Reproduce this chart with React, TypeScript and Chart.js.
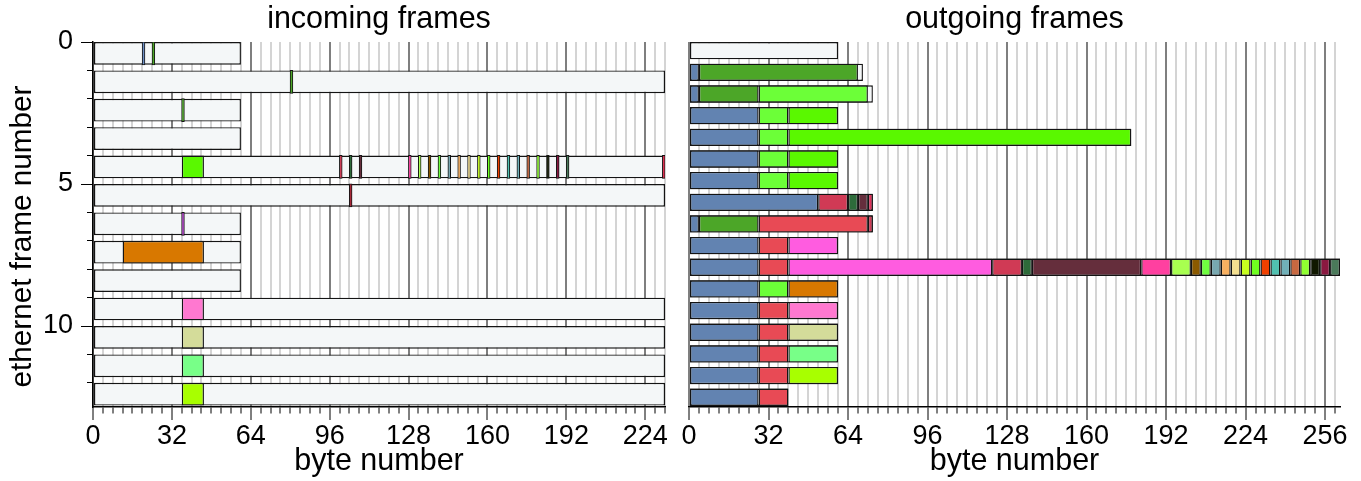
import React, { useEffect, useRef } from "react";
import { Chart, registerables } from "chart.js";

Chart.register(...registerables);

const FONT_FAMILY = "'Liberation Sans', Arial, Helvetica, sans-serif";
Chart.defaults.font.family = FONT_FAMILY;
Chart.defaults.color = "#000";

// ---------- shared axis settings ----------
const BYTE_TICK_STEP = 4;
const BYTE_LABEL_STEP = 32;
const FRAME_LABEL_STEP = 5;
const BAR_FRACTION = 0.8;

// ---------- palette ----------
const EMPTY = "#f4f7f8";
const BLUE = "#6283b1";
const GREEN = "#4ca628";
const LGREEN = "#6cff38";
const BGREEN = "#5af800";
const RED = "#e84a55";
const PINK = "#ff5ce0";
const CRIMSON = "#d03a55";
const DKGREEN = "#2d6b3a";
const MAROON = "#652e3c";
const HOTPINK = "#ff40a0";
const YGREEN = "#a8ff50";
const BROWN = "#8b5a00";
const LIME = "#70ff40";
const TEALGRAY = "#78a8b0";
const LORANGE = "#f8b060";
const PYELLOW = "#f4e090";
const YGREEN2 = "#c8ff20";
const LIME2 = "#70ff20";
const REDORANGE = "#f04000";
const TEAL = "#50c0b0";
const GRAYTEAL = "#70b0b8";
const TERRACOTTA = "#c86840";
const LIME3 = "#90ff30";
const NEARBLACK = "#101800";
const DKCRIMSON = "#8a1840";
const GRAYGREEN = "#4a7a5a";
const ORANGE = "#d87800";
const PINK2 = "#ff78d0";
const KHAKI = "#d4dc9a";
const MINT = "#78ff88";
const LIMEY = "#a8ff00";

// ---------- incoming frames ----------
const inFrameLengths = [60, 232, 60, 60, 232, 232, 60, 60, 60, 232, 232, 232, 232];
const inFieldStarts: number[][] = [
  [20, 24],
  [80],
  [36],
  [],
  [36, 100, 104, 108, 128, 132, 136, 140, 144, 148, 152, 156, 160, 164, 168, 172, 176, 180, 184, 188, 192, 231],
  [104],
  [36],
  [12],
  [],
  [36],
  [36],
  [36],
  [36],
];
const inFieldEnds: number[][] = [
  [21, 25],
  [81],
  [37],
  [],
  [45, 101, 105, 109, 129, 133, 137, 141, 145, 149, 153, 157, 161, 165, 169, 173, 177, 181, 185, 189, 193, 232],
  [105],
  [37],
  [45],
  [],
  [45],
  [45],
  [45],
  [45],
];
const inFieldColors: string[][] = [
  ["#6d8fc4", GREEN],
  [GREEN],
  [GREEN],
  [],
  [BGREEN, CRIMSON, DKGREEN, MAROON, HOTPINK, YGREEN, BROWN, LIME, TEALGRAY, LORANGE, PYELLOW, YGREEN2, LIME2,
    REDORANGE, TEAL, GRAYTEAL, TERRACOTTA, LIME3, NEARBLACK, DKCRIMSON, GRAYGREEN, "#e03050"],
  ["#a82838"],
  ["#b040c8"],
  [ORANGE],
  [],
  [PINK2],
  [KHAKI],
  [MINT],
  [LIMEY],
];
const inByteMax = 232;
const inFrameMax = 12.85;

// ---------- outgoing frames ----------
const outFrameLengths = [60, 70, 74, 60, 178, 60, 60, 74, 74, 60, 262, 60, 60, 60, 60, 60, 40];
const outFieldEdges: number[][] = [
  [],
  [0, 4, 68],
  [0, 4, 28, 72],
  [0, 28, 40, 60],
  [0, 28, 40, 178],
  [0, 28, 40, 60],
  [0, 28, 40, 60],
  [0, 52, 64, 68, 72, 74],
  [0, 4, 28, 72, 74],
  [0, 28, 40, 60],
  [0, 28, 40, 122, 134, 138, 182, 194, 202, 206, 210, 214, 218, 222, 226, 230, 234, 238, 242, 246, 250, 254, 258, 262],
  [0, 28, 40, 60],
  [0, 28, 40, 60],
  [0, 28, 40, 60],
  [0, 28, 40, 60],
  [0, 28, 40, 60],
  [0, 28, 40],
];
const outFieldColors: string[][] = [
  [],
  [BLUE, GREEN],
  [BLUE, GREEN, LGREEN],
  [BLUE, LGREEN, BGREEN],
  [BLUE, LGREEN, BGREEN],
  [BLUE, LGREEN, BGREEN],
  [BLUE, LGREEN, BGREEN],
  [BLUE, CRIMSON, DKGREEN, MAROON, "#e0305a"],
  [BLUE, GREEN, RED, CRIMSON],
  [BLUE, RED, PINK],
  [BLUE, RED, PINK, CRIMSON, DKGREEN, MAROON, HOTPINK, YGREEN, BROWN, LIME, TEALGRAY, LORANGE, PYELLOW, YGREEN2,
    LIME2, REDORANGE, TEAL, GRAYTEAL, TERRACOTTA, LIME3, NEARBLACK, DKCRIMSON, GRAYGREEN],
  [BLUE, LGREEN, ORANGE],
  [BLUE, RED, PINK2],
  [BLUE, RED, KHAKI],
  [BLUE, RED, MINT],
  [BLUE, RED, LIMEY],
  [BLUE, RED],
];
const outByteMax = 262;
const outFrameMax = 16.85;

const TITLE_SIZE = 30.5;
const Y_TITLE_SIZE = 29.7;
const TICK_SIZE = 27;
const Y_TITLE_TEXT = "ethernet frame number";

type PanelProps = {
  title: string;
  left: number;
  width: number;
  height: number;
  frameLengths: number[];
  fieldStarts: number[][];
  fieldEnds: number[][];
  fieldColors: string[][];
  xMax: number;
  yMax: number;
  showFrameAxis: boolean;
  padLeft: number;
  padRight: number;
  yAxisWidth: number;
};

function FramePanel(p: PanelProps) {
  const ref = useRef<HTMLCanvasElement>(null);
  useEffect(() => {
    const canvas = ref.current;
    if (!canvas) return;
    const frameData = p.frameLengths.map((len, i) => ({ x: [0, len], y: i + BAR_FRACTION / 2 }));
    const fieldData: any[] = [];
    const fieldBg: string[] = [];
    const fieldBorder: number[] = [];
    const fieldInflate: any[] = [];
    p.fieldStarts.forEach((starts, i) => {
      starts.forEach((s, k) => {
        const e = p.fieldEnds[i][k];
        const thin = e - s <= 1;
        fieldData.push({ x: [s, e], y: i + BAR_FRACTION / 2 });
        fieldBg.push(p.fieldColors[i][k]);
        fieldBorder.push(thin ? 1 : 1.4);
        fieldInflate.push(thin ? 0.5 : "auto");
      });
    });
    const isMajorByte = (ctx: any) => !!ctx.tick && ctx.tick.value % BYTE_LABEL_STEP === 0;
    const isMajorFrame = (ctx: any) => !!ctx.tick && ctx.tick.value % FRAME_LABEL_STEP === 0;
    const barCommon = {
      borderColor: "#141414",
      borderSkipped: false,
      grouped: false,
      categoryPercentage: BAR_FRACTION,
      barPercentage: 1,
    };
    const yTitlePlugin = {
      id: "frameAxisTitle",
      afterDraw(chart: any) {
        if (!p.showFrameAxis) return;
        const ctx = chart.ctx;
        const ys = chart.scales.y;
        const area = chart.chartArea;
        ctx.save();
        ctx.translate(ys.left + 23, (area.top + area.bottom) / 2 + 12);
        ctx.rotate(-Math.PI / 2);
        ctx.font = `${Y_TITLE_SIZE}px ${FONT_FAMILY}`;
        ctx.fillStyle = "#000";
        ctx.textAlign = "center";
        ctx.textBaseline = "middle";
        ctx.fillText(Y_TITLE_TEXT, 0, 0);
        ctx.restore();
      },
    };
    const chart = new Chart(canvas, {
      type: "bar",
      plugins: [yTitlePlugin],
      data: {
        // Chart.js paints the first dataset last, so fields go first to sit on top of the frames
        datasets: [
          {
            label: "field",
            data: fieldData,
            backgroundColor: fieldBg,
            borderWidth: fieldBorder,
            inflateAmount: fieldInflate,
            ...barCommon,
          } as any,
          { label: "frame", data: frameData, backgroundColor: EMPTY, borderWidth: 1.4, ...barCommon } as any,
        ],
      },
      options: {
        indexAxis: "y",
        animation: false,
        responsive: false,
        maintainAspectRatio: false,
        events: [],
        layout: { padding: { left: p.padLeft, right: p.padRight, top: 0, bottom: 0 } },
        plugins: {
          legend: { display: false },
          tooltip: { enabled: false },
          title: {
            display: true,
            text: p.title,
            fullSize: false,
            color: "#000",
            font: { family: FONT_FAMILY, size: TITLE_SIZE, weight: "normal", lineHeight: 1.2 },
            padding: { top: 1, bottom: 4.4 },
          },
        },
        scales: {
          x: {
            type: "linear",
            position: "bottom",
            min: 0,
            max: p.xMax,
            offset: false,
            ticks: {
              stepSize: BYTE_TICK_STEP,
              autoSkip: false,
              maxRotation: 0,
              minRotation: 0,
              includeBounds: false,
              padding: 0,
              color: "#000",
              font: { family: FONT_FAMILY, size: TICK_SIZE },
              callback: (v: any) => (Number(v) % BYTE_LABEL_STEP === 0 ? String(v) : ""),
            },
            grid: {
              display: true,
              drawOnChartArea: true,
              drawTicks: true,
              tickLength: 13,
              offset: false,
              color: (ctx: any) => (isMajorByte(ctx) ? "#7f7f7f" : "#d4d4d4"),
              lineWidth: 2,
              tickColor: "#000",
              tickWidth: 1,
              tickBorderDash: (ctx: any) => (isMajorByte(ctx) ? [] : [6, 50]),
            },
            border: { display: true, color: "#000", width: 1.5 },
            title: {
              display: true,
              text: "byte number",
              color: "#000",
              font: { family: FONT_FAMILY, size: TITLE_SIZE, lineHeight: 1.2 },
              padding: { top: 0, bottom: 1 },
            },
            afterFit: (s: any) => {
              s.height = 74;
            },
          } as any,
          y: {
            type: "linear",
            reverse: true,
            min: 0,
            max: p.yMax,
            offset: false,
            ticks: {
              display: p.showFrameAxis,
              stepSize: 1,
              autoSkip: false,
              includeBounds: false,
              padding: 8,
              color: "#000",
              font: { family: FONT_FAMILY, size: TICK_SIZE },
              callback: (v: any) => (Number(v) % FRAME_LABEL_STEP === 0 ? String(v) : ""),
            },
            grid: {
              display: p.showFrameAxis,
              drawOnChartArea: false,
              drawTicks: true,
              tickLength: 12,
              offset: false,
              color: "#000",
              lineWidth: 1,
              tickColor: "#000",
              tickWidth: 1,
              tickBorderDash: (ctx: any) => (isMajorFrame(ctx) ? [] : [6, 6]),
              tickBorderDashOffset: (ctx: any) => (isMajorFrame(ctx) ? 0 : 6),
            },
            border: { display: p.showFrameAxis, color: "#000", width: 1.5 },
            title: { display: false },
            afterFit: (s: any) => {
              s.width = p.yAxisWidth;
            },
          } as any,
        },
      } as any,
    });
    return () => chart.destroy();
  }, []);
  return (
    <canvas
      ref={ref}
      width={p.width}
      height={p.height}
      style={{ position: "absolute", left: p.left, top: 0, width: p.width, height: p.height, display: "block" }}
    />
  );
}

function edgesToStarts(edges: number[][]) {
  return edges.map((e) => e.slice(0, Math.max(0, e.length - 1)));
}
function edgesToEnds(edges: number[][]) {
  return edges.map((e) => e.slice(1));
}

export default function App() {
  return (
    <div style={{ position: "absolute", left: 0, top: 0, width: 1361, height: 481, background: "#fff", overflow: "hidden" }}>
      <FramePanel
        title="incoming frames"
        left={0}
        width={680}
        height={481}
        frameLengths={inFrameLengths}
        fieldStarts={inFieldStarts}
        fieldEnds={inFieldEnds}
        fieldColors={inFieldColors}
        xMax={inByteMax}
        yMax={inFrameMax}
        showFrameAxis={true}
        padLeft={0}
        padRight={15}
        yAxisWidth={93}
      />
      <FramePanel
        title="outgoing frames"
        left={680}
        width={681}
        height={481}
        frameLengths={outFrameLengths}
        fieldStarts={edgesToStarts(outFieldEdges)}
        fieldEnds={edgesToEnds(outFieldEdges)}
        fieldColors={outFieldColors}
        xMax={outByteMax}
        yMax={outFrameMax}
        showFrameAxis={false}
        padLeft={9}
        padRight={21}
        yAxisWidth={0}
      />
    </div>
  );
}
